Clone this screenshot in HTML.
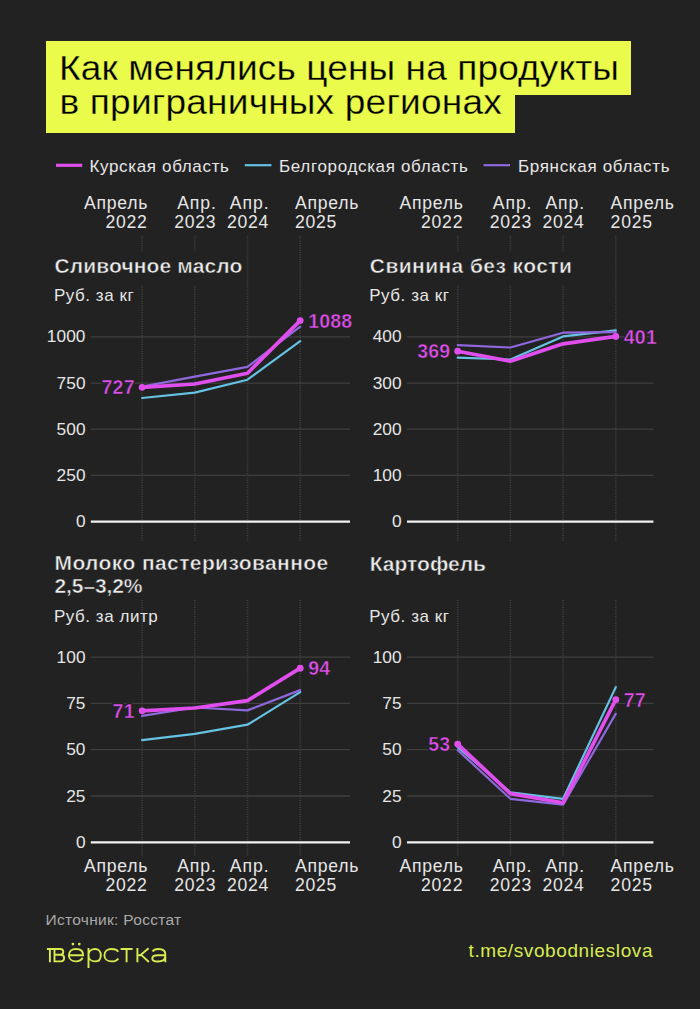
<!DOCTYPE html>
<html><head><meta charset="utf-8">
<style>
html,body{margin:0;padding:0;background:#222222;}
body{width:700px;height:1009px;overflow:hidden;}
svg{display:block;font-family:"Liberation Sans",sans-serif;}
</style></head>
<body>
<svg width="700" height="1009" viewBox="0 0 700 1009">
<rect width="700" height="1009" fill="#222222"/>
<rect x="46" y="41" width="585" height="54" fill="#EAFB4B"/>
<rect x="46" y="94" width="469" height="39" fill="#EAFB4B"/>
<text transform="translate(59 79.8) scale(1.075 1)" x="0" y="0" font-size="34.5" letter-spacing="0.1" fill="#000" stroke="#EAFB4B" stroke-width="0.3">Как менялись цены на продукты</text>
<text transform="translate(59.5 114.2) scale(1.075 1)" x="0" y="0" font-size="34.5" letter-spacing="0.17" fill="#000" stroke="#EAFB4B" stroke-width="0.3">в приграничных регионах</text>
<line x1="56" y1="165.3" x2="82.2" y2="165.3" stroke="#E04FEE" stroke-width="3.2"/>
<text x="89.4" y="172" font-size="17" letter-spacing="0.66" fill="#E6E6E6">Курская область</text>
<line x1="244.8" y1="165.2" x2="271.5" y2="165.2" stroke="#66C2E2" stroke-width="2.2"/>
<text x="279" y="172" font-size="17" letter-spacing="0.66" fill="#E6E6E6">Белгородская область</text>
<line x1="483.5" y1="165.2" x2="510" y2="165.2" stroke="#9068DE" stroke-width="2.2"/>
<text x="518" y="172" font-size="17" letter-spacing="0.66" fill="#E6E6E6">Брянская область</text>
<line x1="142.1" y1="236" x2="142.1" y2="541" stroke="#404040" stroke-width="1.6" stroke-dasharray="1 1.3"/>
<line x1="194.8" y1="236" x2="194.8" y2="541" stroke="#404040" stroke-width="1.6" stroke-dasharray="1 1.3"/>
<line x1="247.5" y1="236" x2="247.5" y2="541" stroke="#404040" stroke-width="1.6" stroke-dasharray="1 1.3"/>
<line x1="300.2" y1="236" x2="300.2" y2="541" stroke="#404040" stroke-width="1.6" stroke-dasharray="1 1.3"/>
<line x1="457.7" y1="236" x2="457.7" y2="541" stroke="#404040" stroke-width="1.6" stroke-dasharray="1 1.3"/>
<line x1="510.4" y1="236" x2="510.4" y2="541" stroke="#404040" stroke-width="1.6" stroke-dasharray="1 1.3"/>
<line x1="563.1" y1="236" x2="563.1" y2="541" stroke="#404040" stroke-width="1.6" stroke-dasharray="1 1.3"/>
<line x1="615.8" y1="236" x2="615.8" y2="541" stroke="#404040" stroke-width="1.6" stroke-dasharray="1 1.3"/>
<line x1="142.1" y1="600" x2="142.1" y2="856" stroke="#404040" stroke-width="1.6" stroke-dasharray="1 1.3"/>
<line x1="194.8" y1="600" x2="194.8" y2="856" stroke="#404040" stroke-width="1.6" stroke-dasharray="1 1.3"/>
<line x1="247.5" y1="600" x2="247.5" y2="856" stroke="#404040" stroke-width="1.6" stroke-dasharray="1 1.3"/>
<line x1="300.2" y1="600" x2="300.2" y2="856" stroke="#404040" stroke-width="1.6" stroke-dasharray="1 1.3"/>
<line x1="457.7" y1="600" x2="457.7" y2="856" stroke="#404040" stroke-width="1.6" stroke-dasharray="1 1.3"/>
<line x1="510.4" y1="600" x2="510.4" y2="856" stroke="#404040" stroke-width="1.6" stroke-dasharray="1 1.3"/>
<line x1="563.1" y1="600" x2="563.1" y2="856" stroke="#404040" stroke-width="1.6" stroke-dasharray="1 1.3"/>
<line x1="615.8" y1="600" x2="615.8" y2="856" stroke="#404040" stroke-width="1.6" stroke-dasharray="1 1.3"/>
<text x="148.1" y="208.9" font-size="17.6" letter-spacing="0.75" text-anchor="end" fill="#E6E6E6">Апрель</text>
<text x="147.6" y="228.3" font-size="17.6" letter-spacing="0.75" text-anchor="end" fill="#E6E6E6">2022</text>
<text x="197.0" y="208.9" font-size="17.6" letter-spacing="0.95" text-anchor="middle" fill="#E6E6E6">Апр.</text>
<text x="195.3" y="228.3" font-size="17.6" letter-spacing="0.75" text-anchor="middle" fill="#E6E6E6">2023</text>
<text x="249.7" y="208.9" font-size="17.6" letter-spacing="0.95" text-anchor="middle" fill="#E6E6E6">Апр.</text>
<text x="248.0" y="228.3" font-size="17.6" letter-spacing="0.75" text-anchor="middle" fill="#E6E6E6">2024</text>
<text x="295.0" y="208.9" font-size="17.6" letter-spacing="0.75" fill="#E6E6E6">Апрель</text>
<text x="295.0" y="228.3" font-size="17.6" letter-spacing="0.75" fill="#E6E6E6">2025</text>
<text x="463.7" y="208.9" font-size="17.6" letter-spacing="0.75" text-anchor="end" fill="#E6E6E6">Апрель</text>
<text x="463.2" y="228.3" font-size="17.6" letter-spacing="0.75" text-anchor="end" fill="#E6E6E6">2022</text>
<text x="512.6" y="208.9" font-size="17.6" letter-spacing="0.95" text-anchor="middle" fill="#E6E6E6">Апр.</text>
<text x="510.9" y="228.3" font-size="17.6" letter-spacing="0.75" text-anchor="middle" fill="#E6E6E6">2023</text>
<text x="565.3000000000001" y="208.9" font-size="17.6" letter-spacing="0.95" text-anchor="middle" fill="#E6E6E6">Апр.</text>
<text x="563.6" y="228.3" font-size="17.6" letter-spacing="0.75" text-anchor="middle" fill="#E6E6E6">2024</text>
<text x="610.5999999999999" y="208.9" font-size="17.6" letter-spacing="0.75" fill="#E6E6E6">Апрель</text>
<text x="610.5999999999999" y="228.3" font-size="17.6" letter-spacing="0.75" fill="#E6E6E6">2025</text>
<text x="148.1" y="871.8" font-size="17.6" letter-spacing="0.75" text-anchor="end" fill="#E6E6E6">Апрель</text>
<text x="147.6" y="891.2" font-size="17.6" letter-spacing="0.75" text-anchor="end" fill="#E6E6E6">2022</text>
<text x="197.0" y="871.8" font-size="17.6" letter-spacing="0.95" text-anchor="middle" fill="#E6E6E6">Апр.</text>
<text x="195.3" y="891.2" font-size="17.6" letter-spacing="0.75" text-anchor="middle" fill="#E6E6E6">2023</text>
<text x="249.7" y="871.8" font-size="17.6" letter-spacing="0.95" text-anchor="middle" fill="#E6E6E6">Апр.</text>
<text x="248.0" y="891.2" font-size="17.6" letter-spacing="0.75" text-anchor="middle" fill="#E6E6E6">2024</text>
<text x="295.0" y="871.8" font-size="17.6" letter-spacing="0.75" fill="#E6E6E6">Апрель</text>
<text x="295.0" y="891.2" font-size="17.6" letter-spacing="0.75" fill="#E6E6E6">2025</text>
<text x="463.7" y="871.8" font-size="17.6" letter-spacing="0.75" text-anchor="end" fill="#E6E6E6">Апрель</text>
<text x="463.2" y="891.2" font-size="17.6" letter-spacing="0.75" text-anchor="end" fill="#E6E6E6">2022</text>
<text x="512.6" y="871.8" font-size="17.6" letter-spacing="0.95" text-anchor="middle" fill="#E6E6E6">Апр.</text>
<text x="510.9" y="891.2" font-size="17.6" letter-spacing="0.75" text-anchor="middle" fill="#E6E6E6">2023</text>
<text x="565.3000000000001" y="871.8" font-size="17.6" letter-spacing="0.95" text-anchor="middle" fill="#E6E6E6">Апр.</text>
<text x="563.6" y="891.2" font-size="17.6" letter-spacing="0.75" text-anchor="middle" fill="#E6E6E6">2024</text>
<text x="610.5999999999999" y="871.8" font-size="17.6" letter-spacing="0.75" fill="#E6E6E6">Апрель</text>
<text x="610.5999999999999" y="891.2" font-size="17.6" letter-spacing="0.75" fill="#E6E6E6">2025</text>
<rect x="50" y="251" width="195" height="34" fill="#222222"/>
<text x="54.5" y="273" font-size="21" font-weight="700" letter-spacing="0.12" fill="#EDEDED" stroke="#222222" stroke-width="0.5">Сливочное масло</text>
<text x="53.9" y="300.9" font-size="17" letter-spacing="0.55" fill="#E6E6E6">Руб. за кг</text>
<line x1="90.8" y1="521.6" x2="350" y2="521.6" stroke="#F2F2F2" stroke-width="2.2"/>
<text x="85.6" y="527.1" font-size="17.3" letter-spacing="0.1" text-anchor="end" fill="#E6E6E6">0</text>
<line x1="90.8" y1="475.41" x2="350" y2="475.41" stroke="#3f3f3f" stroke-width="1.3"/>
<text x="85.6" y="480.91" font-size="17.3" letter-spacing="0.1" text-anchor="end" fill="#E6E6E6">250</text>
<line x1="90.8" y1="429.22" x2="350" y2="429.22" stroke="#3f3f3f" stroke-width="1.3"/>
<text x="85.6" y="434.72" font-size="17.3" letter-spacing="0.1" text-anchor="end" fill="#E6E6E6">500</text>
<line x1="90.8" y1="383.03000000000003" x2="350" y2="383.03000000000003" stroke="#3f3f3f" stroke-width="1.3"/>
<text x="85.6" y="388.53000000000003" font-size="17.3" letter-spacing="0.1" text-anchor="end" fill="#E6E6E6">750</text>
<line x1="90.8" y1="336.84000000000003" x2="350" y2="336.84000000000003" stroke="#3f3f3f" stroke-width="1.3"/>
<text x="85.6" y="342.34000000000003" font-size="17.3" letter-spacing="0.1" text-anchor="end" fill="#E6E6E6">1000</text>
<polyline points="142.1,398.0 194.8,392.6 247.5,379.7 300.2,341.1" fill="none" stroke="#66C2E2" stroke-width="2.2" stroke-linejoin="round" stroke-linecap="round"/>
<polyline points="142.1,386.7 194.8,376.7 247.5,366.8 300.2,326.7" fill="none" stroke="#9068DE" stroke-width="2.2" stroke-linejoin="round" stroke-linecap="round"/>
<polyline points="142.1,387.3 194.8,384.0 247.5,373.2 300.2,320.6" fill="none" stroke="#E04FEE" stroke-width="3.7" stroke-linejoin="round" stroke-linecap="round"/>
<circle cx="142.1" cy="387.3" r="3.4" fill="#E04FEE"/>
<circle cx="300.2" cy="320.6" r="3.4" fill="#E04FEE"/>
<text x="134.7" y="394.4" font-size="19.5" font-weight="700" letter-spacing="0.2" text-anchor="end" fill="#222222" stroke="#222222" stroke-width="2.4">727</text>
<text x="134.7" y="394.4" font-size="19.5" font-weight="700" letter-spacing="0.2" text-anchor="end" fill="#E04FEE" stroke="#222222" stroke-width="0.45">727</text>
<text x="308.2" y="327.7" font-size="19.5" font-weight="700" letter-spacing="0.2" fill="#222222" stroke="#222222" stroke-width="2.4">1088</text>
<text x="308.2" y="327.7" font-size="19.5" font-weight="700" letter-spacing="0.2" fill="#E04FEE" stroke="#222222" stroke-width="0.45">1088</text>
<rect x="365" y="251" width="212" height="34" fill="#222222"/>
<text x="369.8" y="273" font-size="21" font-weight="700" letter-spacing="0.42" fill="#EDEDED" stroke="#222222" stroke-width="0.5">Свинина без кости</text>
<text x="369.2" y="300.9" font-size="17" letter-spacing="0.55" fill="#E6E6E6">Руб. за кг</text>
<line x1="407" y1="521.6" x2="653.4" y2="521.6" stroke="#F2F2F2" stroke-width="2.2"/>
<text x="401.8" y="527.1" font-size="17.3" letter-spacing="0.1" text-anchor="end" fill="#E6E6E6">0</text>
<line x1="407" y1="475.41" x2="653.4" y2="475.41" stroke="#3f3f3f" stroke-width="1.3"/>
<text x="401.8" y="480.91" font-size="17.3" letter-spacing="0.1" text-anchor="end" fill="#E6E6E6">100</text>
<line x1="407" y1="429.22" x2="653.4" y2="429.22" stroke="#3f3f3f" stroke-width="1.3"/>
<text x="401.8" y="434.72" font-size="17.3" letter-spacing="0.1" text-anchor="end" fill="#E6E6E6">200</text>
<line x1="407" y1="383.03000000000003" x2="653.4" y2="383.03000000000003" stroke="#3f3f3f" stroke-width="1.3"/>
<text x="401.8" y="388.53000000000003" font-size="17.3" letter-spacing="0.1" text-anchor="end" fill="#E6E6E6">300</text>
<line x1="407" y1="336.84000000000003" x2="653.4" y2="336.84000000000003" stroke="#3f3f3f" stroke-width="1.3"/>
<text x="401.8" y="342.34000000000003" font-size="17.3" letter-spacing="0.1" text-anchor="end" fill="#E6E6E6">400</text>
<polyline points="457.7,357.6 510.4,359.5 563.1,336.4 615.8,330.4" fill="none" stroke="#66C2E2" stroke-width="2.2" stroke-linejoin="round" stroke-linecap="round"/>
<polyline points="457.7,345.2 510.4,347.5 563.1,332.7 615.8,332.2" fill="none" stroke="#9068DE" stroke-width="2.2" stroke-linejoin="round" stroke-linecap="round"/>
<polyline points="457.7,351.2 510.4,361.3 563.1,343.8 615.8,336.4" fill="none" stroke="#E04FEE" stroke-width="3.7" stroke-linejoin="round" stroke-linecap="round"/>
<circle cx="457.7" cy="351.2" r="3.4" fill="#E04FEE"/>
<circle cx="615.8" cy="336.4" r="3.4" fill="#E04FEE"/>
<text x="450.3" y="358.3" font-size="19.5" font-weight="700" letter-spacing="0.2" text-anchor="end" fill="#222222" stroke="#222222" stroke-width="2.4">369</text>
<text x="450.3" y="358.3" font-size="19.5" font-weight="700" letter-spacing="0.2" text-anchor="end" fill="#E04FEE" stroke="#222222" stroke-width="0.45">369</text>
<text x="623.8" y="343.5" font-size="19.5" font-weight="700" letter-spacing="0.2" fill="#222222" stroke="#222222" stroke-width="2.4">401</text>
<text x="623.8" y="343.5" font-size="19.5" font-weight="700" letter-spacing="0.2" fill="#E04FEE" stroke="#222222" stroke-width="0.45">401</text>
<text x="54.5" y="570.4" font-size="21" font-weight="700" letter-spacing="0.4" fill="#EDEDED" stroke="#222222" stroke-width="0.5">Молоко пастеризованное</text>
<text x="54.5" y="593.4" font-size="21" font-weight="700" letter-spacing="-0.1" fill="#EDEDED" stroke="#222222" stroke-width="0.5">2,5–3,2%</text>
<text x="53.9" y="622.1" font-size="17" letter-spacing="0.55" fill="#E6E6E6">Руб. за литр</text>
<line x1="90.8" y1="842.3" x2="350" y2="842.3" stroke="#F2F2F2" stroke-width="2.2"/>
<text x="85.6" y="847.8" font-size="17.3" letter-spacing="0.1" text-anchor="end" fill="#E6E6E6">0</text>
<line x1="90.8" y1="796.0" x2="350" y2="796.0" stroke="#3f3f3f" stroke-width="1.3"/>
<text x="85.6" y="801.5" font-size="17.3" letter-spacing="0.1" text-anchor="end" fill="#E6E6E6">25</text>
<line x1="90.8" y1="749.6999999999999" x2="350" y2="749.6999999999999" stroke="#3f3f3f" stroke-width="1.3"/>
<text x="85.6" y="755.1999999999999" font-size="17.3" letter-spacing="0.1" text-anchor="end" fill="#E6E6E6">50</text>
<line x1="90.8" y1="703.4" x2="350" y2="703.4" stroke="#3f3f3f" stroke-width="1.3"/>
<text x="85.6" y="708.9" font-size="17.3" letter-spacing="0.1" text-anchor="end" fill="#E6E6E6">75</text>
<line x1="90.8" y1="657.0999999999999" x2="350" y2="657.0999999999999" stroke="#3f3f3f" stroke-width="1.3"/>
<text x="85.6" y="662.5999999999999" font-size="17.3" letter-spacing="0.1" text-anchor="end" fill="#E6E6E6">100</text>
<polyline points="142.1,740.1 194.8,733.8 247.5,724.7 300.2,692.1" fill="none" stroke="#66C2E2" stroke-width="2.2" stroke-linejoin="round" stroke-linecap="round"/>
<polyline points="142.1,715.8 194.8,707.5 247.5,710.4 300.2,690.1" fill="none" stroke="#9068DE" stroke-width="2.2" stroke-linejoin="round" stroke-linecap="round"/>
<polyline points="142.1,710.8 194.8,708.0 247.5,700.6 300.2,668.2" fill="none" stroke="#E04FEE" stroke-width="3.7" stroke-linejoin="round" stroke-linecap="round"/>
<circle cx="142.1" cy="710.8" r="3.4" fill="#E04FEE"/>
<circle cx="300.2" cy="668.2" r="3.4" fill="#E04FEE"/>
<text x="134.7" y="717.9" font-size="19.5" font-weight="700" letter-spacing="0.2" text-anchor="end" fill="#222222" stroke="#222222" stroke-width="2.4">71</text>
<text x="134.7" y="717.9" font-size="19.5" font-weight="700" letter-spacing="0.2" text-anchor="end" fill="#E04FEE" stroke="#222222" stroke-width="0.45">71</text>
<text x="308.2" y="675.3" font-size="19.5" font-weight="700" letter-spacing="0.2" fill="#222222" stroke="#222222" stroke-width="2.4">94</text>
<text x="308.2" y="675.3" font-size="19.5" font-weight="700" letter-spacing="0.2" fill="#E04FEE" stroke="#222222" stroke-width="0.45">94</text>
<text x="369.8" y="570.6" font-size="21" font-weight="700" letter-spacing="0.0" fill="#EDEDED" stroke="#222222" stroke-width="0.5">Картофель</text>
<text x="369.2" y="622.1" font-size="17" letter-spacing="0.55" fill="#E6E6E6">Руб. за кг</text>
<line x1="407" y1="842.3" x2="653.4" y2="842.3" stroke="#F2F2F2" stroke-width="2.2"/>
<text x="401.8" y="847.8" font-size="17.3" letter-spacing="0.1" text-anchor="end" fill="#E6E6E6">0</text>
<line x1="407" y1="796.0" x2="653.4" y2="796.0" stroke="#3f3f3f" stroke-width="1.3"/>
<text x="401.8" y="801.5" font-size="17.3" letter-spacing="0.1" text-anchor="end" fill="#E6E6E6">25</text>
<line x1="407" y1="749.6999999999999" x2="653.4" y2="749.6999999999999" stroke="#3f3f3f" stroke-width="1.3"/>
<text x="401.8" y="755.1999999999999" font-size="17.3" letter-spacing="0.1" text-anchor="end" fill="#E6E6E6">50</text>
<line x1="407" y1="703.4" x2="653.4" y2="703.4" stroke="#3f3f3f" stroke-width="1.3"/>
<text x="401.8" y="708.9" font-size="17.3" letter-spacing="0.1" text-anchor="end" fill="#E6E6E6">75</text>
<line x1="407" y1="657.0999999999999" x2="653.4" y2="657.0999999999999" stroke="#3f3f3f" stroke-width="1.3"/>
<text x="401.8" y="662.5999999999999" font-size="17.3" letter-spacing="0.1" text-anchor="end" fill="#E6E6E6">100</text>
<polyline points="457.7,747.1 510.4,792.3 563.1,798.8 615.8,687.1" fill="none" stroke="#66C2E2" stroke-width="2.2" stroke-linejoin="round" stroke-linecap="round"/>
<polyline points="457.7,750.1 510.4,798.8 563.1,804.7 615.8,713.6" fill="none" stroke="#9068DE" stroke-width="2.2" stroke-linejoin="round" stroke-linecap="round"/>
<polyline points="457.7,744.1 510.4,793.6 563.1,802.7 615.8,699.7" fill="none" stroke="#E04FEE" stroke-width="3.7" stroke-linejoin="round" stroke-linecap="round"/>
<circle cx="457.7" cy="744.1" r="3.4" fill="#E04FEE"/>
<circle cx="615.8" cy="699.7" r="3.4" fill="#E04FEE"/>
<text x="450.3" y="751.2" font-size="19.5" font-weight="700" letter-spacing="0.2" text-anchor="end" fill="#222222" stroke="#222222" stroke-width="2.4">53</text>
<text x="450.3" y="751.2" font-size="19.5" font-weight="700" letter-spacing="0.2" text-anchor="end" fill="#E04FEE" stroke="#222222" stroke-width="0.45">53</text>
<text x="623.8" y="706.8" font-size="19.5" font-weight="700" letter-spacing="0.2" fill="#222222" stroke="#222222" stroke-width="2.4">77</text>
<text x="623.8" y="706.8" font-size="19.5" font-weight="700" letter-spacing="0.2" fill="#E04FEE" stroke="#222222" stroke-width="0.45">77</text>
<text x="45.5" y="924.8" font-size="15.5" letter-spacing="0.3" fill="#A9A9A9">Источник: Росстат</text>
<text x="468.5" y="956.5" font-size="19" letter-spacing="0.6" fill="#D9EB50">t.me/svobodnieslova</text>
<g fill="none" stroke="#D9EB50" stroke-width="1.9" stroke-linecap="butt"><path d="M46.9 948.95H55.5M49.9 948.95V962.3"/><path d="M54.5 948V962.3M54.5 948.95H60.2C62.4 948.95 63.3 950.3 63.3 951.8C63.3 953.5 62.2 954.8 60.2 954.8H54.5M60.6 954.8C63 954.8 64.1 956.3 64.1 958C64.1 960 63 961.4 60.6 961.4H54.5"/><path d="M68.9 955.2H83.1C83.1 951.2 80.2 948.95 76 948.95C71.6 948.95 68.9 951.7 68.9 955.2C68.9 958.8 71.8 961.4 76 961.4C79.2 961.4 81.6 959.9 82.7 957.8"/><path d="M88.5 948V968M88.5 955.2C88.5 951.5 91.3 948.95 95.1 948.95C98.8 948.95 100.8 951.7 100.8 955.2C100.8 958.8 98.8 961.4 95.1 961.4C91.3 961.4 88.5 958.8 88.5 955.2"/><path d="M118.2 951.8C117.1 950 114.9 948.95 111.6 948.95C107.2 948.95 104.4 951.7 104.4 955.2C104.4 958.8 107.2 961.4 111.6 961.4C114.9 961.4 117.1 960.3 118.3 958.4"/><path d="M120.6 948.95H132.6M126.6 948.95V962.3"/><path d="M137.4 948V962.3M137.6 955.3H140.3L148.6 948.3M140.6 954.4L148.9 962"/><path d="M152.6 951.5C153.6 949.7 155.6 948.95 158.4 948.95C163 948.95 165.3 950.6 165.3 954.3V962.3M165.3 955.3H157.8C154.2 955.3 152.3 956.6 152.3 958.4C152.3 960.3 154.2 961.5 157.8 961.5C161.8 961.5 165.3 959.8 165.3 956"/></g>
<circle cx="72.9" cy="944.1" r="1.35" fill="#D9EB50"/><circle cx="79.3" cy="944.1" r="1.35" fill="#D9EB50"/>
</svg>
</body></html>
